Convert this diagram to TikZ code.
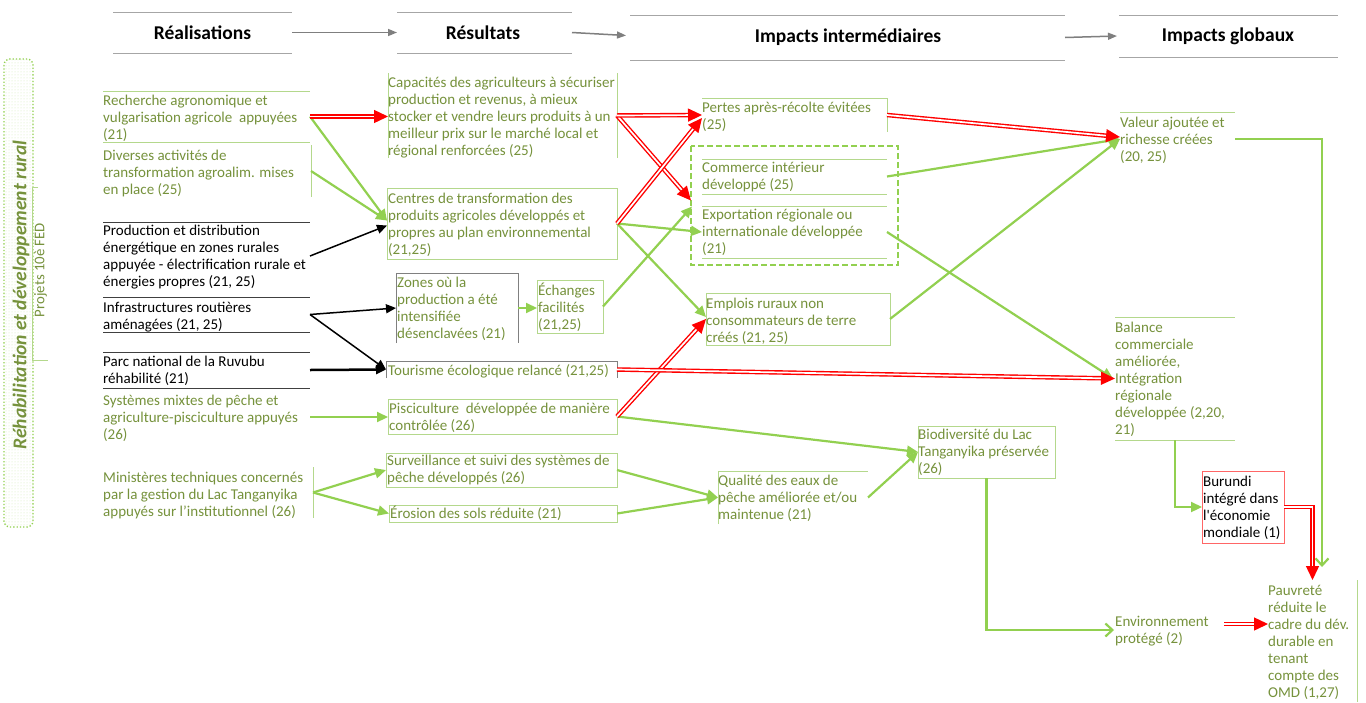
\documentclass[tikz,border=0pt]{standalone}
\usepackage{fontspec}
\setmainfont{Carlito}
\usetikzlibrary{arrows.meta,fit,calc,patterns}
\definecolor{gtext}{RGB}{118,146,60}
\definecolor{gline}{RGB}{146,208,80}
\definecolor{gbox}{RGB}{180,216,140}
\definecolor{hgray}{RGB}{166,166,166}
\definecolor{agray}{RGB}{127,127,127}
\definecolor{dline}{RGB}{64,64,64}
\definecolor{bline}{RGB}{128,128,128}
\begin{document}
\begin{tikzpicture}[x=1pt,y=-1pt,
  bx/.style={inner sep=0pt, outer sep=0pt},
  txt/.style={inner sep=0pt, anchor=north west, align=left, font=\fontsize{15}{17}\selectfont},
  gt/.style={txt, text=gtext},
  bt/.style={txt, text=black},
  gframe/.style={draw=gbox, line width=0.9pt},
  kframe/.style={draw=dline, line width=0.9pt},
  yframe/.style={draw=bline, line width=1pt},
  hline/.style={draw=hgray, line width=1pt},
  hd/.style={font=\fontsize{19.5}{22}\selectfont\bfseries, inner sep=0pt},
  harr/.style={draw=agray, line width=1.5pt, -{Triangle[length=9pt,width=7pt]}},
  garr/.style={draw=gline, line width=2.2pt, -{Triangle[length=11pt,width=10pt]}},
  oarr/.style={draw=gline, line width=2.2pt, -{Straight Barb[length=7pt,width=13pt]}},
  barr/.style={draw=black, line width=1.5pt, -{Triangle[length=10pt,width=9pt]}},
  rarr/.style={draw=red, line width=1.4pt, double=white, double distance=1.7pt, -{Triangle[length=14pt,width=13pt]}}
]
\fill[white] (0,0) rectangle (1366,702);
\useasboundingbox (0,0) rectangle (1366,702);

% ---------- headers
\node[bx, fit={(113,12)(292,53)}] (hf1) {};
\node[bx, fit={(397,12)(572,53)}] (hf2) {};
\node[bx, fit={(630,15)(1065,60)}] (hf3) {};
\node[bx, fit={(1119,15)(1338,57)}] (hf4) {};
\foreach \h in {hf1,hf2,hf3,hf4}{
  \draw[hline] (\h.north west) -- (\h.north east) (\h.south west) -- (\h.south east);
}
\node[hd] (h1) at (hf1.center) {Réalisations};
\node[hd] (h2) at (483,32.5) {Résultats};
\node[hd] (h3) at (848,37.5) {Impacts intermédiaires};
\node[hd] (h4) at (1228,36) {Impacts globaux};
\draw[harr] (hf1.east) -- (hf1.east -| hf2.west);
\draw[harr] (hf2.east) -- ($(hf3.west)+(-4,-2)$);
\draw[harr] (hf3.east) -- ($(hf4.west)+(-2,0)$);

% ---------- left label
\node[bx, fit={(4,59)(33,527)}] (lbox) {};
\draw[draw=gline, dotted, line width=1.3pt, rounded corners=6pt, pattern=dots, pattern color=gline!40] (lbox.north west) rectangle (lbox.south east);
\node[rotate=90, font=\fontsize{19.5}{22}\selectfont\bfseries\itshape, text=gtext, inner sep=0pt] (ttl) at (21,295) {Réhabilitation et développement rural};
\draw[gbox, line width=0.9pt] (38,187) -- (32,187) -- (32,360) -- (48,360);
\node[rotate=90, font=\fontsize{14.8}{17}\selectfont, text=gtext, inner sep=0pt] (prj) at (40.5,270) {Projets 10è FED};

% ---------- Réalisations
\node[bx, fit={(103,91)(310,142)}] (rec) {};
\draw[gframe] (rec.north west) -- (rec.north east) (rec.south west) -- (rec.south east);
\node[gt] (rect) at (103,93.1) {\strut Recherche agronomique et\\vulgarisation agricole\ \ appuyées\\(21)};

\node[bx, fit={(103,145)(311,197)}] (div) {};
\draw[gframe] (div.north east) -- (div.south east);
\node[gt] (divt) at (103,148.1) {\strut Diverses activités de\\transformation agroalim. mises\\en place (25)};

\node[bx, fit={(103,222)(310,290)}] (prod) {};
\draw[kframe] (prod.north west) -- (prod.north east);
\node[bt] (prodt) at (103,223.5) {\strut Production et distribution\\énergétique en zones rurales\\appuyée - électrification rurale et\\énergies propres (21, 25)};

\node[bx, fit={(103,297)(310,332)}] (inf) {};
\draw[kframe] (inf.north west) -- (inf.north east) (inf.south west) -- (inf.south east);
\node[bt] (inft) at (103,300.1) {\strut Infrastructures routières\\aménagées (21, 25)};

\node[bx, fit={(103,352)(310,388)}] (parc) {};
\draw[kframe] (parc.north west) -- (parc.north east) (parc.south west) -- (parc.south east);
\node[bt] (parct) at (103,354.1) {\strut Parc national de la Ruvubu\\réhabilité (21)};

\node[bx, fit={(103,398)(310,436)}] (sys) {};
\node[gt] (syst) at (103,393.1) {\strut Systèmes mixtes de pêche et\\agriculture-pisciculture appuyés\\(26)};

\node[bx, fit={(103,467)(313,518)}] (min) {};
\draw[gframe] (min.north east) -- (min.south east);
\node[gt] (mint) at (103,470.1) {\strut Ministères techniques concernés\\par la gestion du Lac Tanganyika\\appuyés sur l’institutionnel (26)};

% ---------- Résultats
\node[bx, fit={(388,73)(617,158)}] (cap) {};
\draw[gframe] (cap.north west) -- (cap.south west) (cap.north east) -- (cap.south east);
\node[gt] (capt) at (388,75.1) {\strut Capacités des agriculteurs à sécuriser\\production et revenus, à mieux\\stocker et vendre leurs produits à un\\meilleur prix sur le marché local et\\régional renforcées (25)};

\node[bx, fit={(387,188)(617,259)}] (cen) {};
\draw[gframe] (cen.north west) rectangle (cen.south east);
\node[gt] (cent) at (388,191.1) {\strut Centres de transformation des\\produits agricoles développés et\\propres au plan environnemental\\(21,25)};

\node[bx, fit={(396,273)(518,343)}] (zon) {};
\draw[yframe] (zon.south west) -- (zon.north west) -- (zon.north east) -- (zon.south east);
\node[gt] (zont) at (397,275.1) {\strut Zones où la\\production a été\\intensifiée\\désenclavées (21)};

\node[bx, fit={(537,280)(603,333)}] (ech) {};
\draw[gframe] (ech.north west) rectangle (ech.south east);
\node[gt] (echt) at (538,283.1) {\strut Échanges\\facilités\\(21,25)};

\node[bx, fit={(386,361)(617,378)}] (tou) {};
\draw[yframe] (tou.south west) -- (tou.north west) -- (tou.north east) -- (tou.south east);
\node[gt] (tout) at (388,363.1) {\strut Tourisme écologique relancé (21,25)};

\node[bx, fit={(388,399)(617,434)}] (pis) {};
\draw[gframe] (pis.north west) rectangle (pis.south east);
\node[gt] (pist) at (389,401.1) {\strut Pisciculture\ \ développée de manière\\contrôlée (26)};

\node[bx, fit={(386,453)(617,487)}] (sur) {};
\draw[gframe] (sur.north west) rectangle (sur.south east);
\node[gt] (surt) at (387,453.1) {\strut Surveillance et suivi des systèmes de\\pêche développés (26)};

\node[bx, fit={(389,505)(617,522)}] (ero) {};
\draw[gframe] (ero.north west) rectangle (ero.south east);
\node[gt] (erot) at (390,506.1) {\strut Érosion des sols réduite (21)};

% ---------- Impacts intermédiaires
\node[bx, fit={(702,98)(887,132)}] (per) {};
\draw[gframe] (per.north west) -- (per.north east) -- (per.south east);
\node[gt] (pert) at (702,100.1) {\strut Pertes après-récolte évitées\\(25)};

\node[bx, fit={(691,146)(898,265)}] (grp) {};
\draw[draw=gline, line width=2pt, dash pattern=on 6pt off 3pt] (grp.north west) rectangle (grp.south east);

\node[bx, fit={(702,159)(887,194)}] (com) {};
\draw[gframe] (com.north west) -- (com.north east) (com.south west) -- (com.south east);
\node[gt] (comt) at (702,160.1) {\strut Commerce intérieur\\développé (25)};

\node[bx, fit={(702,206)(887,258)}] (exp) {};
\draw[gframe] (exp.north west) -- (exp.north east) (exp.south west) -- (exp.south east);
\node[gt] (expt) at (702,207.1) {\strut Exportation régionale ou\\internationale développée\\(21)};

\node[bx, fit={(706,293)(890,345)}] (emp) {};
\draw[gframe] (emp.north west) rectangle (emp.south east);
\node[gt] (empt) at (706,296.1) {\strut Emplois ruraux non\\consommateurs de terre\\créés (21, 25)};

\node[bx, fit={(718,471)(868,524)}] (qua) {};
\draw[gframe] (qua.south west) -- (qua.north west) -- (qua.north east);
\node[gt] (quat) at (718,473.1) {\strut Qualité des eaux de\\pêche améliorée et/ou\\maintenue (21)};

\node[bx, fit={(918,426)(1055,478)}] (bio) {};
\draw[gframe] (bio.north west) rectangle (bio.south east);
\node[gt] (biot) at (918,427.1) {\strut Biodiversité du Lac\\Tanganyika préservée\\(26)};

% ---------- Impacts globaux
\node[bx, fit={(1120,112)(1235,166)}] (val) {};
\draw[gframe] (val.north west) -- (val.north east);
\node[gt] (valt) at (1120,115.1) {\strut Valeur ajoutée et\\richesse créées\\(20, 25)};

\node[bx, fit={(1115,317)(1235,440)}] (bal) {};
\draw[gframe] (bal.north west) -- (bal.north east) (bal.south west) -- (bal.south east);
\node[gt] (balt) at (1115,320.1) {\strut Balance\\commerciale\\améliorée,\\Intégration\\régionale\\développée (2,20,\\21)};

\node[bx, fit={(1202,471)(1284,543)}] (bur) {};
\draw[draw=red!60, line width=0.9pt] (bur.north west) rectangle (bur.south east);
\node[bt] (burt) at (1203,474.1) {\strut Burundi\\intégré dans\\l\textquotesingle économie\\mondiale (1)};

\node[bx, fit={(1115,608)(1224,640)}] (env) {};
\node[gt] (envt) at (1115,614.1) {\strut Environnement\\protégé (2)};

\node[bx, fit={(1268,580)(1357,702)}] (pau) {};
\draw[gframe] (pau.north east) -- (pau.south east);
\node[gt] (paut) at (1268,583.1) {\strut Pauvreté\\réduite le\\cadre du dév.\\durable en\\tenant\\compte des\\OMD (1,27)};

% ---------- connectors
\draw[garr] (rec.east) -- ($(cen.west)+(0,-3)$);
\draw[garr] (div.east) -- ($(cen.west)+(0,-3)$);
\draw[barr] (prod.east) -- ($(cen.west)+(0,2)$);
\draw[rarr] (rec.east) -- (rec.east -| cap.west);
\draw[barr] (inf.east) -- (zon.west);
\draw[barr] (inf.east) -- (tou.west);
\draw[barr, line width=2.5pt] (parc.east) -- (tou.west);
\draw[garr] (sys.east) -- (sys.east -| pis.west);
\draw[garr] (min.east) -- (sur.west);
\draw[garr] (min.east) -- (ero.west);
\draw[garr] (zon.east) -- (zon.east -| ech.west);
\draw[garr] (ech.east) -- ($(grp.west)+(1,1)$);
\draw[garr] (cen.east) -- (exp.west);
\draw[garr] (cen.east) -- ($(emp.west)+(0,-2)$);
\draw[garr] (pis.east) -- (bio.west);
\draw[garr] (sur.east) -- (qua.west);
\draw[garr] (ero.east) -- (qua.west);
\draw[garr] (qua.east) -- (bio.west);
\draw[garr] (com.east) -- (val.west);
\draw[garr] (emp.east) -- (val.west);
\draw[garr] (exp.east) -- ($(bal.west)+(-2,0)$);
\draw[rarr] (cap.east) -- ($(grp.west)+(0,-5)$);
\draw[rarr] (cap.east) -- (per.west);
\draw[rarr] (cen.east) -- ($(per.west)+(0,3)$);
\draw[rarr] (pis.east) -- (emp.west);
\draw[rarr] (tou.east) -- (bal.west);
\draw[rarr] (per.east) -- ($(val.west)+(0,-2)$);
\draw[oarr] (val.east) -| ($(pau.north)+(9.5,-13)$);
\draw[garr] (bal.south) |- (bur.west);
\draw[rarr] (bur.east) -| (pau.north);
\draw[oarr] (bio.south) |- ($(env.west)+(-1,6)$);
\draw[rarr] (env.east) -- (env.east -| pau.west);
\end{tikzpicture}
\end{document}
